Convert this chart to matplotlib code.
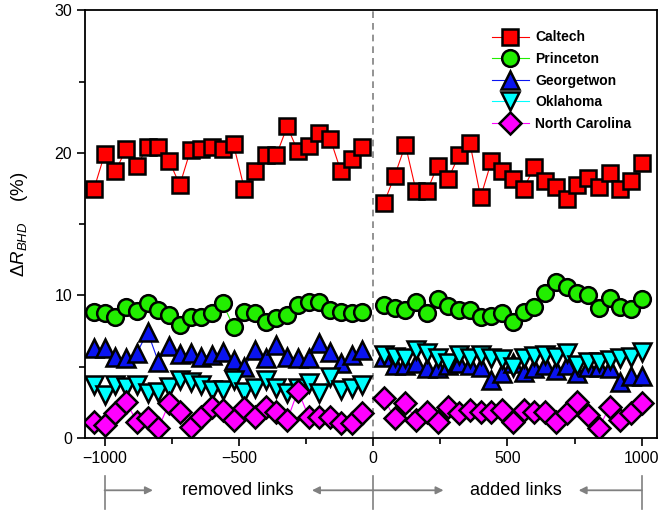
import numpy as np
import matplotlib
matplotlib.use('Agg')
from matplotlib import pyplot as plt

plt.rcParams['font.family'] = ['Liberation Sans', 'DejaVu Sans']
plt.rcParams['mathtext.fontset'] = 'custom'
plt.rcParams['mathtext.rm'] = 'Liberation Sans'
plt.rcParams['mathtext.it'] = 'Liberation Sans:italic'

# number of links removed (negative) / added (positive)
x_removed = [-1040, -1000, -960, -920, -880, -840, -800, -760, -720, -680, -640, -600, -560,
             -520, -480, -440, -400, -360, -320, -280, -240, -200, -160, -120, -80, -40]
x_added = [40, 80, 120, 160, 200, 240, 280, 320, 360, 400, 440, 480, 520,
           560, 600, 640, 680, 720, 760, 800, 840, 880, 920, 960, 1000]

# Delta R_BHD (%) for each university network
caltech_rm = [17.45, 19.9, 18.7, 20.26, 19.1, 20.4, 20.4, 19.46, 17.75, 20.2, 20.3, 20.4, 20.3,
              20.6, 17.5, 18.7, 19.86, 19.86, 21.85, 20.1, 20.5, 21.4, 21.0, 18.7, 19.6, 20.4]
caltech_add = [16.47, 18.4, 20.56, 17.3, 17.3, 19.1, 18.2, 19.86, 20.7, 16.9, 19.4, 18.7, 18.2,
               17.5, 19.0, 18.0, 17.6, 16.75, 17.75, 18.27, 17.6, 18.6, 17.45, 18.0, 19.3]

princeton_rm = [8.87, 8.75, 8.51, 9.21, 8.93, 9.45, 8.98, 8.63, 7.93, 8.51, 8.51, 8.79, 9.45,
                7.81, 8.87, 8.75, 8.16, 8.4, 8.63, 9.33, 9.57, 9.57, 8.98, 8.87, 8.75, 8.87]
princeton_add = [9.33, 9.1, 8.98, 9.57, 8.79, 9.73, 9.26, 8.98, 8.98, 8.51, 8.56, 8.75, 8.16,
                 8.87, 9.17, 10.15, 10.97, 10.62, 10.15, 10.04, 9.1, 9.8, 9.17, 9.03, 9.73]

georgetown_rm = [6.29, 6.29, 5.66, 5.59, 5.94, 7.46, 5.36, 6.46, 5.89, 5.94, 5.71, 5.82, 6.06,
                 5.47, 5.0, 6.18, 5.59, 6.53, 5.71, 5.59, 5.59, 6.65, 6.06, 5.24, 5.82, 6.18]
georgetown_add = [5.7, 5.12, 5.12, 5.24, 4.89, 4.89, 5.12, 5.24, 5.12, 5.0, 4.07, 4.54, 5.24,
                  4.65, 4.89, 5.12, 4.77, 5.12, 4.54, 5.0, 5.0, 4.89, 3.95, 4.35, 4.35]

oklahoma_rm = [3.72, 3.02, 3.72, 3.6, 3.72, 3.13, 3.25, 3.6, 4.07, 3.95, 3.72, 3.37, 3.37,
               4.07, 3.25, 3.48, 4.07, 3.48, 3.13, 3.48, 3.84, 3.13, 4.3, 3.37, 3.48, 3.72]
oklahoma_add = [5.82, 5.71, 5.59, 6.18, 5.94, 5.59, 5.24, 5.82, 5.59, 5.82, 5.59, 5.52, 5.0,
                5.59, 5.75, 5.82, 5.71, 5.99, 5.12, 5.36, 5.36, 5.47, 5.59, 5.66, 6.06]

ncarolina_rm = [1.15, 0.91, 1.73, 2.55, 1.15, 1.38, 0.68, 2.43, 1.85, 0.8, 1.5, 2.2, 1.96,
                1.26, 2.08, 1.5, 2.2, 1.85, 1.26, 3.32, 1.5, 1.5, 1.5, 1.03, 1.03, 1.73]
ncarolina_add = [2.78, 1.38, 2.43, 1.26, 1.85, 1.15, 2.2, 1.73, 1.96, 1.85, 1.85, 1.96, 1.15,
                 1.96, 1.85, 1.85, 1.15, 1.73, 2.55, 1.61, 0.68, 2.2, 1.26, 1.73, 2.43]

names = ['Caltech', 'Princeton', 'Georgetwon', 'Oklahoma', 'North Carolina']
removed = [caltech_rm, princeton_rm, georgetown_rm, oklahoma_rm, ncarolina_rm]
added = [caltech_add, princeton_add, georgetown_add, oklahoma_add, ncarolina_add]
markers = ['s', 'o', '^', 'v', 'D']
colors = ['#ff0000', '#22ee00', '#0a14f0', '#00ffff', '#ff00ff']
sizes = [11.5, 12, 12.5, 12.5, 11]

fig = plt.figure(figsize=(6.66, 5.13), dpi=100)
ax = fig.add_axes([0.128, 0.146, 0.859, 0.834])

for name, yr, ya, m, c, ms in zip(names, removed, added, markers, colors, sizes):
    style = dict(marker=m, color=c, lw=0.8, markersize=ms, markerfacecolor=c,
                 markeredgecolor='black', markeredgewidth=1.8)
    ax.plot(x_removed, yr, label=name, **style)
    ax.plot(x_added, ya, **style)

ax.axvline(0, color='gray', ls=(0, (4, 3)), lw=1.2, zorder=0)

ax.set_xlim(-1072, 1058)
ax.set_ylim(0, 30)
ax.set_xticks([-1000, -500, 0, 500, 1000])
ax.set_xticks([-750, -250, 250, 750], minor=True)
ax.set_yticks([0, 10, 20, 30])
ax.set_yticks([5, 15, 25], minor=True)
ax.tick_params(which='both', direction='out', labelsize=11.5, width=1.2)
ax.tick_params(which='major', length=6)
ax.tick_params(which='minor', length=4)
for sp in ax.spines.values():
    sp.set_linewidth(1.3)

ax.set_ylabel(r'$\Delta R_{BHD}$    (%)', fontsize=13.5)
ax.yaxis.set_label_coords(-0.096, 0.5)

leg = ax.legend(loc='upper left', bbox_to_anchor=(0.702, 0.966), frameon=False,
                prop={'weight': 'bold', 'size': 10}, handlelength=2.6,
                labelspacing=0.55, handletextpad=0.5, borderaxespad=0)

# annotation below the axis
tr = ax.get_xaxis_transform()
for xv in [-1000, 0, 1000]:
    ax.plot([xv, xv], [-0.088, -0.165], color='gray', lw=1.2, transform=tr, clip_on=False)
arrow = dict(arrowstyle='-|>', color='gray', lw=1.3, mutation_scale=11, shrinkA=0, shrinkB=0)
for x0, x1 in [(-1000, -820), (0, -228), (0, 262), (1000, 765)]:
    ax.annotate('', xy=(x1, -0.122), xytext=(x0, -0.122), xycoords=tr, textcoords=tr,
                arrowprops=arrow, annotation_clip=False)
ax.text(-505, -0.122, 'removed links', transform=tr, ha='center', va='center', fontsize=13)
ax.text(530, -0.122, 'added links', transform=tr, ha='center', va='center', fontsize=13)

fig.savefig('out.png', dpi=100)
